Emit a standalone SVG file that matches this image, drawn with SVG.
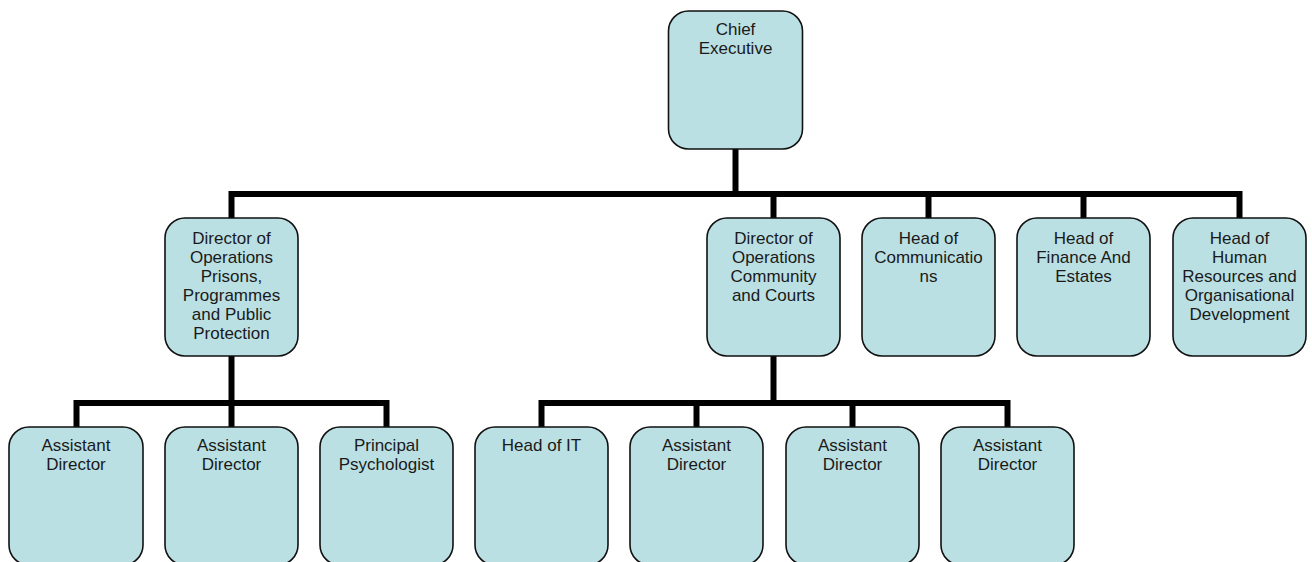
<svg xmlns="http://www.w3.org/2000/svg" width="1312" height="562" viewBox="0 0 1312 562">
<style>
.box{fill:#BBE0E3;stroke:#111;stroke-width:1.6}
.t{font-family:"Liberation Sans",Arial,sans-serif;font-size:17px;fill:#1a1a1a;text-anchor:middle}
.c{fill:none;stroke:#000;stroke-width:6;stroke-linejoin:miter;stroke-linecap:square}
</style>
<rect width="1312" height="562" fill="#fff"/>
<g id="connectors">
<path class="c" d="M735.5 150V194"/>
<path class="c" d="M231.5 217V194H1239.5V217"/>
<path class="c" d="M773.5 194V217"/>
<path class="c" d="M928.5 194V217"/>
<path class="c" d="M1083.5 194V217"/>
<path class="c" d="M231.5 357V403"/>
<path class="c" d="M76.5 426V403H386.5V426"/>
<path class="c" d="M231.5 403V426"/>
<path class="c" d="M773.5 357V403"/>
<path class="c" d="M541.5 426V403H1007.5V426"/>
<path class="c" d="M696.5 403V426"/>
<path class="c" d="M852.5 403V426"/>
</g>
<g id="chief">
<rect class="box" x="668.5" y="11" width="134" height="138" rx="20"/>
<text class="t" x="735.5" y="35">Chief</text>
<text class="t" x="735.5" y="54">Executive</text>
</g>
<g id="dir-prisons">
<rect class="box" x="165" y="218" width="133" height="138" rx="20"/>
<text class="t" x="231.5" y="244">Director of</text>
<text class="t" x="231.5" y="263">Operations</text>
<text class="t" x="231.5" y="282">Prisons,</text>
<text class="t" x="231.5" y="301">Programmes</text>
<text class="t" x="231.5" y="320">and Public</text>
<text class="t" x="231.5" y="339">Protection</text>
</g>
<g id="dir-community">
<rect class="box" x="707" y="218" width="133" height="138" rx="20"/>
<text class="t" x="773.5" y="244">Director of</text>
<text class="t" x="773.5" y="263">Operations</text>
<text class="t" x="773.5" y="282">Community</text>
<text class="t" x="773.5" y="301">and Courts</text>
</g>
<g id="head-comms">
<rect class="box" x="862" y="218" width="133" height="138" rx="20"/>
<text class="t" x="928.5" y="244">Head of</text>
<text class="t" x="928.5" y="263">Communicatio</text>
<text class="t" x="928.5" y="282">ns</text>
</g>
<g id="head-finance">
<rect class="box" x="1017" y="218" width="133" height="138" rx="20"/>
<text class="t" x="1083.5" y="244">Head of</text>
<text class="t" x="1083.5" y="263">Finance And</text>
<text class="t" x="1083.5" y="282">Estates</text>
</g>
<g id="head-hr">
<rect class="box" x="1173" y="218" width="133" height="138" rx="20"/>
<text class="t" x="1239.5" y="244">Head of</text>
<text class="t" x="1239.5" y="263">Human</text>
<text class="t" x="1239.5" y="282">Resources and</text>
<text class="t" x="1239.5" y="301">Organisational</text>
<text class="t" x="1239.5" y="320">Development</text>
</g>
<g id="asst-dir-1">
<rect class="box" x="9" y="427" width="134" height="138" rx="20"/>
<text class="t" x="76" y="451">Assistant</text>
<text class="t" x="76" y="470">Director</text>
</g>
<g id="asst-dir-2">
<rect class="box" x="165" y="427" width="133" height="138" rx="20"/>
<text class="t" x="231.5" y="451">Assistant</text>
<text class="t" x="231.5" y="470">Director</text>
</g>
<g id="principal-psych">
<rect class="box" x="320" y="427" width="133" height="138" rx="20"/>
<text class="t" x="386.5" y="451">Principal</text>
<text class="t" x="386.5" y="470">Psychologist</text>
</g>
<g id="head-it">
<rect class="box" x="475" y="427" width="133" height="138" rx="20"/>
<text class="t" x="541.5" y="451">Head of IT</text>
</g>
<g id="asst-dir-3">
<rect class="box" x="630" y="427" width="133" height="138" rx="20"/>
<text class="t" x="696.5" y="451">Assistant</text>
<text class="t" x="696.5" y="470">Director</text>
</g>
<g id="asst-dir-4">
<rect class="box" x="786" y="427" width="133" height="138" rx="20"/>
<text class="t" x="852.5" y="451">Assistant</text>
<text class="t" x="852.5" y="470">Director</text>
</g>
<g id="asst-dir-5">
<rect class="box" x="941" y="427" width="133" height="138" rx="20"/>
<text class="t" x="1007.5" y="451">Assistant</text>
<text class="t" x="1007.5" y="470">Director</text>
</g>
</svg>
